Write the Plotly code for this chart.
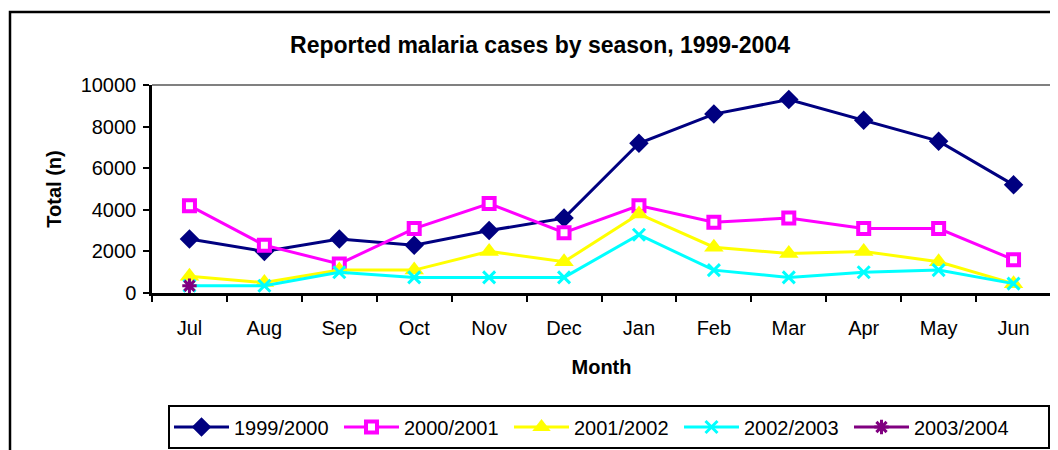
import plotly.graph_objects as go

months = ["Jul", "Aug", "Sep", "Oct", "Nov", "Dec", "Jan", "Feb", "Mar", "Apr", "May", "Jun"]
s1999 = [2600, 2000, 2600, 2300, 3000, 3600, 7200, 8600, 9300, 8300, 7300, 5200]
s2000 = [4200, 2300, 1400, 3100, 4300, 2900, 4200, 3400, 3600, 3100, 3100, 1600]
s2001 = [800, 500, 1100, 1100, 2000, 1500, 3800, 2200, 1900, 2000, 1500, 450]
s2002 = [350, 350, 1000, 750, 750, 750, 2800, 1100, 750, 1000, 1100, 450]
s2003 = [350]
s2003_months = ["Jul"]
yticks = [0, 2000, 4000, 6000, 8000, 10000]

# the page body has an 8px default margin: work in screen coordinates and shift
OFF = 8
W, H = 1058 - OFF, 450 - OFF
L, R, T, B = 152 - OFF, 1051 - OFF, 85 - OFF, 293 - OFF
FONT = "Arial, Liberation Sans, sans-serif"

fig = go.Figure()

def add(name, x, y, color, symbol, size, mline=None, mcolor=None, lw=3):
    marker = dict(symbol=symbol, size=size, color=mcolor or color)
    if mline:
        marker["line"] = dict(color=mline[0], width=mline[1])
    fig.add_trace(go.Scatter(x=x, y=y, name=name, mode="lines+markers",
                             line=dict(color=color, width=lw), marker=marker,
                             cliponaxis=False))

add("1999/2000", months, s1999, "#000080", "diamond", 15, mline=("#000080", 0))
add("2000/2001", months, s2000, "#FF00FF", "square", 11, mline=("#FF00FF", 4), mcolor="#FFFFFF")
add("2001/2002", months, s2001, "#FFFF00", "triangle-up", 17, mline=("#FFFF00", 0))
add("2002/2003", months, s2002, "#00FFFF", "x-thin-open", 12, mline=("#00FFFF", 3))
add("2003/2004", s2003_months, s2003, "#800080", "asterisk-open", 12, mline=("#800080", 3))

def px(xs):
    return (xs - OFF - L) / (R - L)

def py(ys):
    return (B - (ys - OFF)) / (B - T)

shapes = [
    # outer chart frame
    dict(type="rect", xref="paper", yref="paper", x0=px(10), x1=px(1052), y0=py(470), y1=py(12),
         line=dict(color="black", width=2.5), layer="below"),
    # plot area top/right grey border
    dict(type="line", xref="paper", yref="paper", x0=0, x1=1, y0=1, y1=1,
         line=dict(color="#808080", width=2), layer="below"),
    dict(type="line", xref="paper", yref="paper", x0=1, x1=1, y0=0, y1=1,
         line=dict(color="#808080", width=2), layer="below"),
    # legend box
    dict(type="rect", xref="paper", yref="paper", x0=px(169), x1=px(1049), y0=py(448), y1=py(406),
         line=dict(color="black", width=2), layer="below"),
]

fig.update_layout(
    width=W, height=H,
    margin=dict(l=L, r=W - R, t=T, b=H - B, pad=0, autoexpand=False),
    paper_bgcolor="white", plot_bgcolor="white",
    font=dict(family=FONT, size=20, color="black"),
    title=dict(text="<b>Reported malaria cases by season, 1999-2004</b>",
               x=px(540), xref="paper", xanchor="center", y=1 - (45 - OFF) / H, yanchor="middle",
               font=dict(size=23)),
    showlegend=True,
    legend=dict(orientation="h", x=px(169), xanchor="left", y=py(427), yanchor="middle",
                entrywidth=100, entrywidthmode="pixels", itemwidth=55,
                font=dict(size=20), bgcolor="rgba(0,0,0,0)", tracegroupgap=0),
    shapes=shapes,
    xaxis=dict(type="category", categoryorder="array", categoryarray=months,
               range=[-0.5, 11.5], tickson="boundaries", ticks="outside", ticklen=6,
               tickwidth=2, tickcolor="black", showline=True, linecolor="black", linewidth=2.5,
               showgrid=False, zeroline=False, ticklabelstandoff=15,
               tickfont=dict(size=20),
               title=dict(text="<b>Month</b>", font=dict(size=20), standoff=23)),
    yaxis=dict(range=[0, 10000], tickvals=yticks, tickformat="d", ticks="outside", ticklen=6,
               tickwidth=2, tickcolor="black", showline=True, linecolor="black", linewidth=2.5,
               showgrid=False, zeroline=False, ticklabelstandoff=3,
               tickfont=dict(size=20),
               title=dict(text="<b>Total (n)</b>", font=dict(size=20), standoff=14)),
)

fig.write_html("out.html")
